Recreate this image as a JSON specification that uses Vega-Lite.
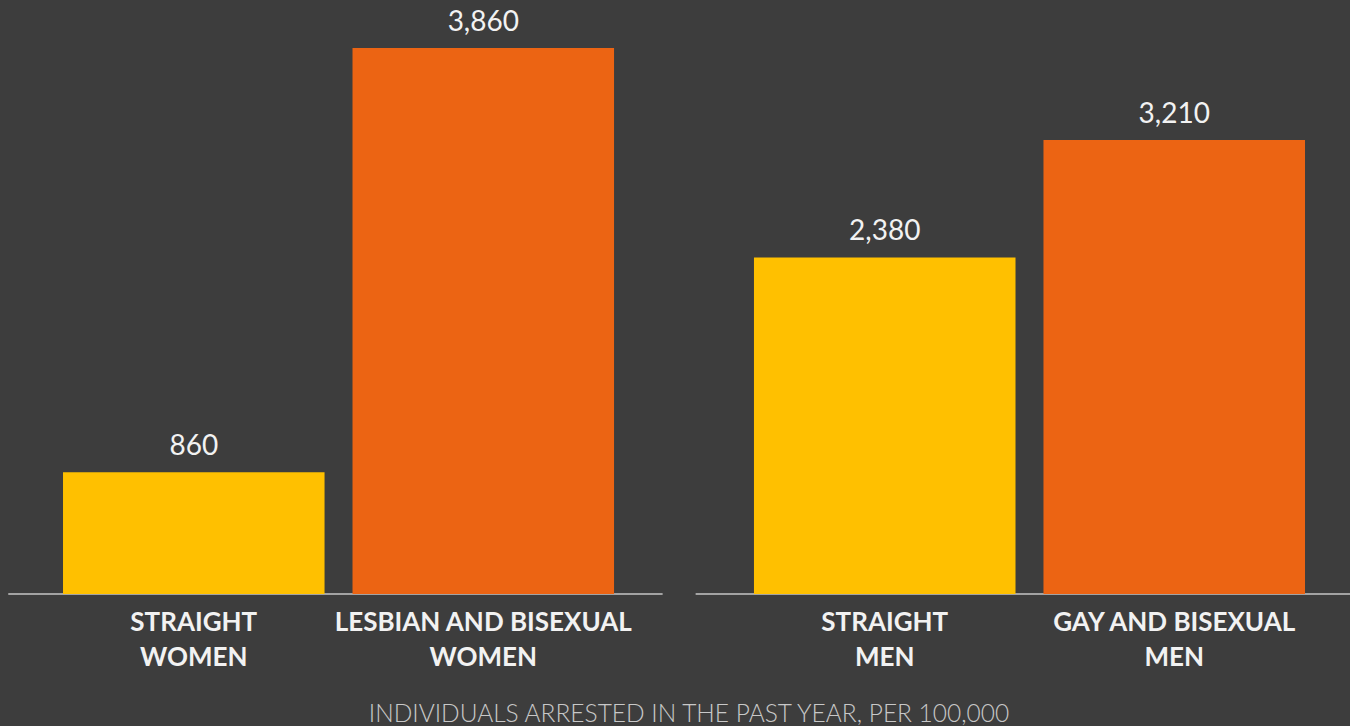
{
  "$schema": "https://vega.github.io/schema/vega-lite/v6.json",
  "width": 1350,
  "height": 726,
  "autosize": {"type": "fit", "contains": "padding"},
  "padding": 0,
  "background": "#3d3d3d",
  "config": {"view": {"stroke": null}},
  "title": {
    "text": "INDIVIDUALS ARRESTED IN THE PAST YEAR, PER 100,000",
    "orient": "bottom",
    "anchor": "middle",
    "offset": 32,
    "dx": 14,
    "font": "Lato",
    "fontSize": 24.5,
    "fontWeight": 300,
    "color": "#c8c8c8"
  },
  "datasets": {
    "bars": [
      {"group": "W", "type": "straight", "label": "STRAIGHT|WOMEN", "value": 860},
      {"group": "W", "type": "lgb", "label": "LESBIAN AND BISEXUAL|WOMEN", "value": 3860},
      {"group": "M", "type": "straight", "label": "STRAIGHT|MEN", "value": 2380},
      {"group": "M", "type": "lgb", "label": "GAY AND BISEXUAL|MEN", "value": 3210}
    ],
    "groups": [{"group": "W"}, {"group": "M"}]
  },
  "layer": [
    {
      "data": {"name": "groups"},
      "mark": {"type": "bar", "color": "#a3a3a3"},
      "encoding": {
        "x": {"field": "group", "type": "nominal", "sort": ["W", "M"], "axis": null,
              "scale": {"domain": ["W", "M"], "paddingInner": 0.048, "paddingOuter": 0.006, "align": 1}},
        "y": {"datum": 7, "type": "quantitative", "scale": {"domain": [0, 4200], "nice": false}, "axis": null},
        "y2": {"datum": -7}
      }
    },
    {
      "data": {"name": "bars"},
      "encoding": {
        "x": {"field": "group", "type": "nominal", "axis": null,
              "scale": {"domain": ["W", "M"], "paddingInner": 0.1606, "paddingOuter": 0.0572, "align": 0.614}},
        "xOffset": {"field": "type", "type": "nominal",
                    "scale": {"domain": ["straight", "lgb"], "paddingInner": 0.0966, "paddingOuter": 0.05}}
      },
      "layer": [
        {
          "mark": {"type": "bar"},
          "encoding": {
            "y": {"field": "value", "type": "quantitative", "scale": {"domain": [0, 4200], "nice": false}, "axis": null},
            "color": {"field": "type", "type": "nominal", "legend": null,
                      "scale": {"domain": ["straight", "lgb"], "range": ["#ffc000", "#ec6413"]}}
          }
        },
        {
          "mark": {"type": "text", "baseline": "bottom", "dy": -11, "font": "Lato", "fontSize": 28, "color": "#f2f2f2"},
          "encoding": {
            "y": {"field": "value", "type": "quantitative"},
            "text": {"field": "value", "type": "quantitative", "format": ","}
          }
        },
        {
          "mark": {"type": "text", "baseline": "top", "dy": 16, "font": "Lato", "fontSize": 26, "fontWeight": "bold",
                   "lineBreak": "|", "lineHeight": 34.5, "color": "#f2f2f2"},
          "encoding": {
            "y": {"datum": 0, "type": "quantitative"},
            "text": {"field": "label", "type": "nominal"}
          }
        }
      ]
    }
  ],
  "resolve": {"scale": {"x": "independent"}}
}
